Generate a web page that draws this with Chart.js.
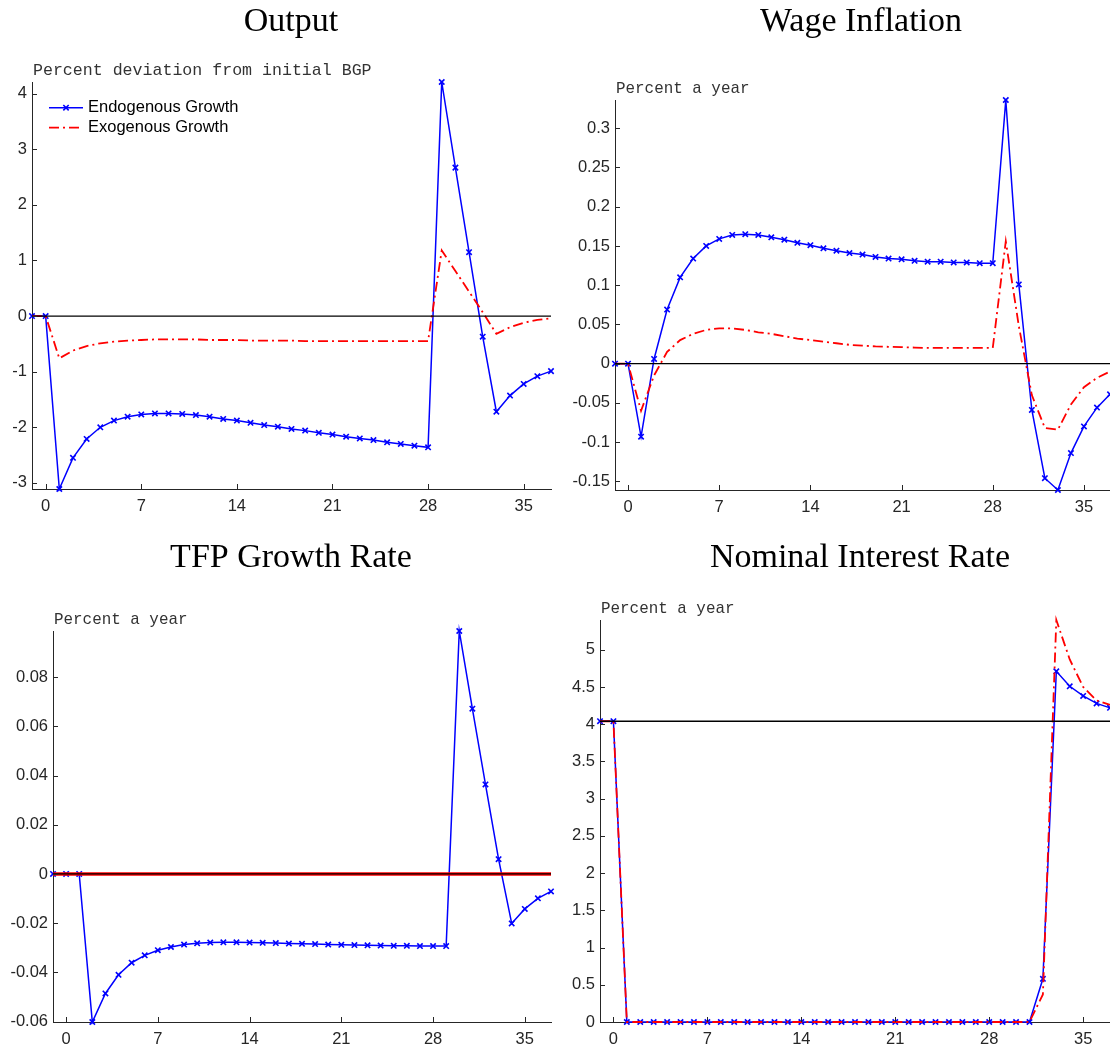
<!DOCTYPE html>
<html>
<head>
<meta charset="utf-8">
<title>Impulse responses</title>
<script src="https://cdn.jsdelivr.net/npm/chart.js@4.4.0/dist/chart.umd.min.js"></script>
<style>
  html, body { margin: 0; padding: 0; background: #fff; overflow: hidden; }
  body { width: 1110px; height: 1049px; position: relative; }
  canvas { position: absolute; }
</style>
</head>
<body>
<canvas id="cOutput" style="left:0px;top:0px" width="570" height="530"></canvas>
<canvas id="cWage" style="left:560px;top:0px" width="560" height="530"></canvas>
<canvas id="cTfp" style="left:0px;top:530px" width="570" height="519"></canvas>
<canvas id="cRate" style="left:560px;top:530px" width="560" height="519"></canvas>
<script>
// quarters after the shock, -1 .. 37
const periods = [-1, 0, 1, 2, 3, 4, 5, 6, 7, 8, 9, 10, 11, 12, 13, 14, 15, 16, 17, 18, 19,
  20, 21, 22, 23, 24, 25, 26, 27, 28, 29, 30, 31, 32, 33, 34, 35, 36, 37];
const xTicks = [0, 7, 14, 21, 28, 35];
const seriesNames = ['Endogenous Growth', 'Exogenous Growth'];

// Output
const outputEndo = [0, 0, -3.11, -2.55, -2.21, -2.00, -1.88, -1.81, -1.77, -1.75, -1.75, -1.76, -1.78,
  -1.81, -1.85, -1.88, -1.92, -1.96, -1.99, -2.03, -2.06, -2.10, -2.13, -2.17, -2.20, -2.23, -2.27,
  -2.30, -2.33, -2.36, 4.21, 2.67, 1.15, -0.37, -1.72, -1.43, -1.22, -1.08, -0.99];
const outputExo = [0, 0, -0.76, -0.62, -0.54, -0.49, -0.46, -0.44, -0.43, -0.42, -0.42, -0.42, -0.42,
  -0.43, -0.43, -0.43, -0.44, -0.44, -0.44, -0.44, -0.45, -0.45, -0.45, -0.45, -0.45, -0.45, -0.45,
  -0.45, -0.45, -0.45, 1.18, 0.81, 0.44, 0.07, -0.32, -0.20, -0.12, -0.07, -0.04];
const outputTicks = [-3, -2, -1, 0, 1, 2, 3, 4];

// Wage inflation
const wageEndo = [0, 0, -0.093, 0.006, 0.069, 0.110, 0.134, 0.150, 0.159, 0.164, 0.165, 0.164, 0.161,
  0.158, 0.154, 0.151, 0.147, 0.144, 0.141, 0.139, 0.136, 0.134, 0.133, 0.131, 0.130, 0.130, 0.129,
  0.129, 0.128, 0.128, 0.336, 0.101, -0.059, -0.146, -0.161, -0.114, -0.080, -0.056, -0.039];
const wageExo = [0, 0, -0.060, -0.015, 0.015, 0.030, 0.038, 0.043, 0.045, 0.045, 0.043, 0.040, 0.038,
  0.035, 0.032, 0.030, 0.028, 0.026, 0.024, 0.023, 0.022, 0.0215, 0.021, 0.0205, 0.020, 0.020, 0.020,
  0.020, 0.020, 0.020, 0.156, 0.048, -0.040, -0.082, -0.084, -0.052, -0.030, -0.018, -0.010];
const wageTicks = [-0.15, -0.1, -0.05, 0, 0.05, 0.1, 0.15, 0.2, 0.25, 0.3];

// TFP growth rate
const tfpEndo = [0, 0, 0, -0.0602, -0.0486, -0.0410, -0.0361, -0.0331, -0.0310, -0.0297, -0.0287,
  -0.0282, -0.0279, -0.0278, -0.0278, -0.0279, -0.0280, -0.0281, -0.0283, -0.0284, -0.0285, -0.0287,
  -0.0288, -0.0289, -0.0290, -0.0291, -0.0292, -0.0292, -0.0293, -0.0293, -0.0293, 0.0988, 0.0672,
  0.0364, 0.0060, -0.0201, -0.0142, -0.0099, -0.0071];
const tfpExo = [0, 0, 0, 0, 0, 0, 0, 0, 0, 0, 0, 0, 0, 0, 0, 0, 0, 0, 0, 0,
  0, 0, 0, 0, 0, 0, 0, 0, 0, 0, 0, 0, 0, 0, 0, 0, 0, 0, 0];
const tfpTicks = [-0.06, -0.04, -0.02, 0, 0.02, 0.04, 0.06, 0.08];

// Nominal interest rate
const rateEndo = [4.04, 4.04, 0, 0, 0, 0, 0, 0, 0, 0, 0, 0, 0, 0, 0, 0, 0, 0, 0, 0,
  0, 0, 0, 0, 0, 0, 0, 0, 0, 0, 0, 0, 0, 0.58, 4.71, 4.51, 4.38, 4.28, 4.22];
const rateExo = [4.04, 4.04, 0, 0, 0, 0, 0, 0, 0, 0, 0, 0, 0, 0, 0, 0, 0, 0, 0, 0,
  0, 0, 0, 0, 0, 0, 0, 0, 0, 0, 0, 0, 0, 0.37, 5.40, 4.87, 4.50, 4.32, 4.26];
const rateTicks = [0, 0.5, 1, 1.5, 2, 2.5, 3, 3.5, 4, 4.5, 5];

// reference levels (initial steady state)
const baselines = [0, 0, 0, 4.04];

const AXIS_COLOR = '#262626';

// MATLAB-style ticks pointing into the plot
const inwardTicks = {
  id: 'inwardTicks',
  afterDraw(chart) {
    const {ctx, chartArea: a, scales} = chart;
    const len = 5;
    ctx.save();
    ctx.strokeStyle = AXIS_COLOR;
    ctx.lineWidth = 1;
    ctx.beginPath();
    scales.x.ticks.forEach(t => {
      const px = Math.round(scales.x.getPixelForValue(t.value)) + 0.5;
      ctx.moveTo(px, a.bottom);
      ctx.lineTo(px, a.bottom - len);
    });
    scales.y.ticks.forEach(t => {
      const py = Math.round(scales.y.getPixelForValue(t.value)) + 0.5;
      ctx.moveTo(a.left, py);
      ctx.lineTo(a.left + len, py);
    });
    ctx.stroke();
    ctx.restore();
  }
};

// panel title and unit note above the axes
const panelText = {
  id: 'panelText',
  afterDraw(chart, args, opts) {
    const {ctx, chartArea: a} = chart;
    ctx.save();
    ctx.fillStyle = '#000';
    ctx.textAlign = 'center';
    ctx.textBaseline = 'alphabetic';
    ctx.font = '34px "Liberation Serif", "Times New Roman", serif';
    ctx.fillText(opts.title, opts.titleX, opts.titleY);
    ctx.fillStyle = '#333';
    ctx.textAlign = 'left';
    ctx.font = opts.unitSize + 'px "Liberation Mono", "Courier New", monospace';
    ctx.fillText(opts.unit, a.left + 1, a.top - 7);
    ctx.restore();
  }
};

// legend drawn inside the axes, top left
const insideLegend = {
  id: 'insideLegend',
  afterDraw(chart, args, opts) {
    if (!opts.show) return;
    const {ctx, chartArea: a} = chart;
    const x0 = a.left + 17;
    const lineLen = 34;
    let y = a.top + 25.7;
    ctx.save();
    chart.data.datasets.forEach(ds => {
      if (!ds.label) return;
      ctx.strokeStyle = ds.borderColor;
      ctx.lineWidth = ds.borderWidth;
      ctx.setLineDash(ds.borderDash || []);
      ctx.beginPath();
      ctx.moveTo(x0, y);
      ctx.lineTo(x0 + lineLen, y);
      ctx.stroke();
      ctx.setLineDash([]);
      if (ds.pointRadius) {
        ctx.lineWidth = ds.pointBorderWidth;
        Chart.helpers.drawPoint(ctx, {pointStyle: ds.pointStyle, radius: ds.pointRadius,
          borderWidth: ds.pointBorderWidth, rotation: 0}, x0 + lineLen / 2, y);
      }
      ctx.fillStyle = '#000';
      ctx.font = '16.5px "Liberation Sans", Arial, sans-serif';
      ctx.textBaseline = 'middle';
      ctx.fillText(ds.label, x0 + lineLen + 5, y);
      y += 20;
    });
    ctx.restore();
  }
};

function pts(values) {
  return periods.map((p, i) => ({x: p, y: values[i]}));
}

function makePanel(id, cfg) {
  const all = cfg.endo.concat(cfg.exo);
  const yMin = Math.min(...all);
  const yMax = Math.max(...all);
  const xMin = Math.min(...periods);
  const xMax = Math.max(...periods);
  const tickFont = {family: '"Liberation Sans", Arial, sans-serif', size: 16.5};

  new Chart(document.getElementById(id), {
    type: 'line',
    data: {
      datasets: [
        {
          label: seriesNames[0],
          data: pts(cfg.endo),
          borderColor: '#0000ff',
          borderWidth: 1.5,
          pointStyle: 'crossRot',
          pointRadius: 3.8,
          pointBorderWidth: 1.6,
          pointBorderColor: '#0000ff',
          pointBackgroundColor: '#0000ff',
          tension: 0,
          clip: false,
          order: 2
        },
        {
          label: seriesNames[1],
          data: pts(cfg.exo),
          borderColor: '#ff0000',
          borderWidth: cfg.exoWidth,
          borderDash: cfg.exoDash,
          pointRadius: 0,
          tension: 0,
          clip: false,
          order: 1
        },
        {
          data: [{x: xMin, y: cfg.base}, {x: xMax, y: cfg.base}],
          borderColor: '#000000',
          borderWidth: 1.3,
          pointRadius: 0,
          order: 0
        }
      ]
    },
    options: {
      responsive: false,
      animation: false,
      events: [],
      layout: {
        autoPadding: false,
        padding: {left: 0, top: cfg.padTop, right: cfg.padRight, bottom: 0}
      },
      scales: {
        x: {
          type: 'linear',
          min: xMin,
          max: xMax,
          afterBuildTicks: s => { s.ticks = xTicks.map(v => ({value: v})); },
          afterFit: s => { s.height = cfg.xAxisH; },
          grid: {display: false, drawTicks: false},
          border: {display: true, color: AXIS_COLOR, width: 1},
          ticks: {color: AXIS_COLOR, font: tickFont, padding: 8, maxRotation: 0,
            callback: v => String(v)}
        },
        y: {
          type: 'linear',
          min: yMin,
          max: yMax,
          afterBuildTicks: s => { s.ticks = cfg.ticks.map(v => ({value: v})); },
          afterFit: s => { s.width = cfg.yAxisW; },
          grid: {display: false, drawTicks: false},
          border: {display: true, color: AXIS_COLOR, width: 1},
          ticks: {color: AXIS_COLOR, font: tickFont, padding: 5,
            callback: v => String(v)}
        }
      },
      plugins: {
        legend: {display: false},
        tooltip: {enabled: false},
        panelText: {title: cfg.title, titleX: cfg.titleX, titleY: cfg.titleY,
          unit: cfg.unit, unitSize: cfg.unitSize},
        insideLegend: {show: !!cfg.legend}
      }
    },
    plugins: [inwardTicks, panelText, insideLegend]
  });
}

Chart.defaults.font.family = '"Liberation Sans", Arial, sans-serif';

makePanel('cOutput', {
  endo: outputEndo, exo: outputExo, ticks: outputTicks, base: baselines[0],
  title: 'Output', titleX: 291, titleY: 31,
  unit: 'Percent deviation from initial BGP', unitSize: 16.6,
  padTop: 82, padRight: 19, yAxisW: 32, xAxisH: 41,
  exoWidth: 1.8, exoDash: [10, 4, 2, 4], legend: true
});
makePanel('cWage', {
  endo: wageEndo, exo: wageExo, ticks: wageTicks, base: baselines[1],
  title: 'Wage Inflation', titleX: 301, titleY: 31,
  unit: 'Percent a year', unitSize: 15.9,
  padTop: 100, padRight: 10, yAxisW: 55, xAxisH: 40,
  exoWidth: 1.8, exoDash: [10, 4, 2, 4]
});
makePanel('cTfp', {
  endo: tfpEndo, exo: tfpExo, ticks: tfpTicks, base: baselines[2],
  title: 'TFP Growth Rate', titleX: 291, titleY: 37,
  unit: 'Percent a year', unitSize: 15.9,
  padTop: 101, padRight: 19, yAxisW: 53, xAxisH: 27,
  exoWidth: 3.5, exoDash: []
});
makePanel('cRate', {
  endo: rateEndo, exo: rateExo, ticks: rateTicks, base: baselines[3],
  title: 'Nominal Interest Rate', titleX: 300, titleY: 37,
  unit: 'Percent a year', unitSize: 15.9,
  padTop: 90, padRight: 10, yAxisW: 40, xAxisH: 27,
  exoWidth: 1.8, exoDash: [10, 4, 2, 4]
});
</script>
</body>
</html>
